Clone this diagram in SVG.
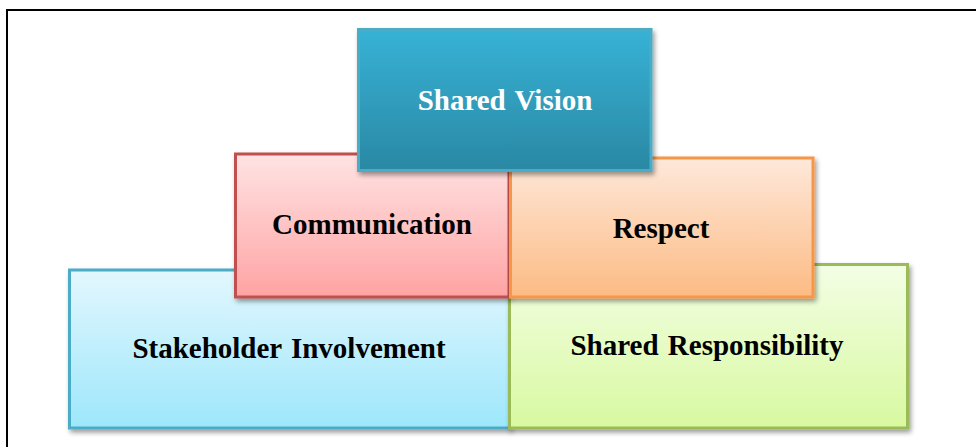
<svg xmlns="http://www.w3.org/2000/svg" width="976" height="447" viewBox="0 0 976 447">
  <defs>
    <linearGradient id="gVision" x1="0" y1="0" x2="0" y2="1">
      <stop offset="0" stop-color="#37b2d6"/>
      <stop offset="1" stop-color="#2a88a3"/>
    </linearGradient>
    <linearGradient id="gComm" x1="0" y1="0" x2="0" y2="1">
      <stop offset="0" stop-color="#ffe3e3"/>
      <stop offset="1" stop-color="#ffa3a3"/>
    </linearGradient>
    <linearGradient id="gResp" x1="0" y1="0" x2="0" y2="1">
      <stop offset="0" stop-color="#fee8da"/>
      <stop offset="1" stop-color="#fcbb84"/>
    </linearGradient>
    <linearGradient id="gStake" x1="0" y1="0" x2="0" y2="1">
      <stop offset="0" stop-color="#e3f7fe"/>
      <stop offset="1" stop-color="#9de7fb"/>
    </linearGradient>
    <linearGradient id="gShared" x1="0" y1="0" x2="0" y2="1">
      <stop offset="0" stop-color="#f3fee5"/>
      <stop offset="1" stop-color="#d8f9a0"/>
    </linearGradient>
    <filter id="shadow" x="-10%" y="-10%" width="120%" height="125%">
      <feGaussianBlur in="SourceAlpha" stdDeviation="2.5"/>
      <feOffset dx="2" dy="3" result="b"/>
      <feComponentTransfer><feFuncA type="linear" slope="0.4"/></feComponentTransfer>
      <feMerge><feMergeNode/><feMergeNode in="SourceGraphic"/></feMerge>
    </filter>
  </defs>
  <style>
    .box { stroke-width: 3; filter: url(#shadow); }
    .lbl { font-family: "Liberation Serif", "Times New Roman", serif; font-weight: bold; font-size: 29px; text-anchor: middle; fill: #000; word-spacing: 2px; }
  </style>

  <!-- outer frame -->
  <rect x="7" y="10" width="1000" height="500" fill="none" stroke="#000" stroke-width="2"/>

  <g id="connectors"></g>

  <g id="stakeholder-involvement">
    <rect class="box" x="69.5" y="270" width="440" height="158" fill="url(#gStake)" stroke="#4bacc6"/>
    <text class="lbl" x="289" y="358">Stakeholder Involvement</text>
  </g>

  <g id="shared-responsibility">
    <rect class="box" x="509.5" y="264.5" width="398" height="163.5" fill="url(#gShared)" stroke="#9bbb59"/>
    <text class="lbl" x="707" y="355">Shared Responsibility</text>
  </g>

  <g id="communication">
    <rect class="box" x="235.5" y="154" width="273.5" height="143" fill="url(#gComm)" stroke="#c0504d"/>
    <text class="lbl" x="372" y="234">Communication</text>
  </g>

  <g id="respect">
    <rect class="box" x="510.5" y="158" width="302.5" height="139" fill="url(#gResp)" stroke="#f79646"/>
    <text class="lbl" x="661" y="237.5">Respect</text>
  </g>

  <g id="shared-vision">
    <rect class="box" x="358.5" y="29.5" width="292.5" height="141" fill="url(#gVision)" stroke="#4bacc6"/>
    <text class="lbl" x="505" y="110" fill="#ffffff" style="fill:#ffffff">Shared Vision</text>
  </g>
</svg>
